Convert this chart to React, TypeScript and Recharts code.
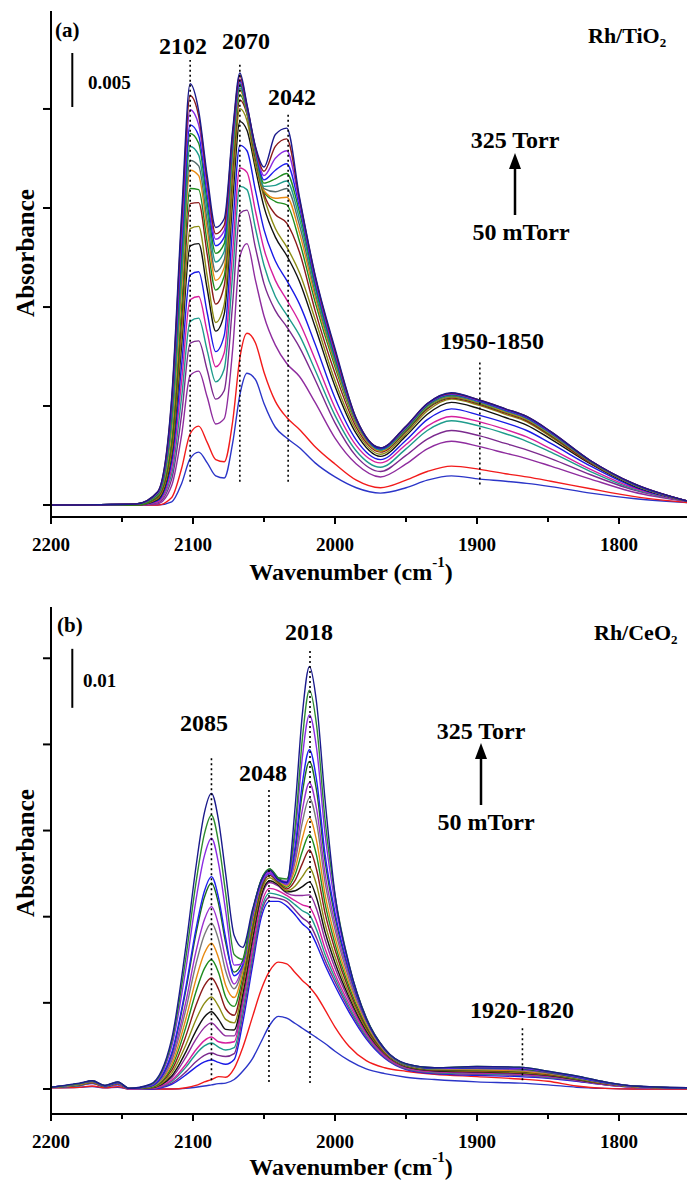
import React from 'react';
import { LineChart, Line, XAxis, YAxis, ReferenceLine } from 'recharts';

// ---------- Panel (a) Rh/TiO2 : absorbance in units of 0.001 ----------
const wavenumbersA = [2200, 2140, 2125, 2115, 2108, 2102, 2096, 2090, 2084, 2078, 2072, 2067, 2062, 2056, 2050, 2042, 2034, 2025, 2014, 2000, 1985, 1968, 1950, 1935, 1918, 1898, 1880, 1865, 1848, 1820, 1790, 1750];
const tiA01 = [0, 0, 0, 0.3, 2.0, 4.3, 4.9, 3.9, 2.7, 2.5, 5.8, 10.2, 12.2, 11.6, 9.4, 7.2, 6.2, 5.3, 3.9, 2.6, 1.6, 1.1, 1.6, 2.3, 2.7, 2.4, 2.2, 2.0, 1.7, 1.1, 0.6, 0.2];
const tiA02 = [0, 0, 0, 0.7, 3.4, 6.6, 7.3, 5.8, 4.2, 4.0, 7.8, 13.6, 15.9, 15.0, 12.3, 9.6, 8.1, 7.0, 5.4, 3.8, 2.3, 1.6, 2.3, 3.1, 3.6, 3.3, 2.9, 2.6, 2.2, 1.5, 0.8, 0.2];
const tiA03 = [0, 0, 0.1, 1.8, 6.5, 12.0, 12.4, 10.0, 7.5, 8.0, 14.5, 23.0, 24.2, 20.8, 17.5, 14.8, 13.1, 11.9, 9.5, 6.2, 3.8, 2.6, 3.8, 5.2, 5.9, 5.4, 4.8, 4.3, 3.6, 2.4, 1.2, 0.3];
const tiA04 = [0, 0, 0.2, 2.4, 8.4, 15.0, 15.2, 12.5, 9.8, 10.6, 18.8, 27.0, 27.3, 23.8, 20.5, 18.0, 16.5, 14.6, 11.6, 7.6, 4.5, 3.1, 4.6, 6.1, 6.9, 6.4, 5.7, 5.1, 4.3, 2.8, 1.4, 0.3];
const tiA05 = [0, 0, 0.3, 2.9, 10.0, 17.0, 17.3, 14.3, 11.4, 12.6, 21.5, 29.5, 29.2, 25.6, 22.2, 19.3, 17.6, 15.7, 12.5, 8.3, 5.0, 3.5, 5.2, 6.9, 7.8, 7.3, 6.6, 5.9, 4.9, 3.1, 1.5, 0.3];
const tiA06 = [0, 0, 0.3, 3.4, 11.5, 19.0, 19.3, 16.0, 12.8, 14.1, 23.6, 31.2, 30.8, 27.2, 23.7, 20.8, 19.0, 16.9, 13.5, 9.0, 5.5, 3.9, 5.6, 7.3, 8.2, 7.7, 7.0, 6.3, 5.2, 3.3, 1.6, 0.3];
const tiA07 = [0, 0, 0.4, 4.0, 13.0, 21.3, 21.6, 17.8, 14.2, 15.7, 25.9, 33.3, 32.8, 29.1, 25.5, 22.6, 20.8, 18.6, 14.9, 9.9, 6.0, 4.2, 6.0, 7.9, 8.9, 8.3, 7.6, 6.9, 5.7, 3.6, 1.7, 0.3];
const tiA08 = [0, 0, 0.5, 4.6, 14.8, 24.0, 24.2, 20.0, 16.1, 17.7, 28.3, 35.5, 34.7, 31.1, 27.6, 24.8, 23.1, 20.7, 16.5, 11.0, 6.6, 4.5, 6.4, 8.4, 9.5, 8.9, 8.1, 7.4, 6.1, 3.8, 1.8, 0.3];
const tiA09 = [0, 0, 0.6, 5.0, 15.8, 25.6, 25.8, 21.2, 16.9, 18.6, 29.6, 36.7, 35.6, 31.5, 28.5, 25.6, 23.9, 21.5, 17.2, 11.5, 6.9, 4.7, 6.6, 8.7, 9.8, 9.2, 8.4, 7.7, 6.3, 3.9, 1.9, 0.3];
const tiA10 = [0, 0, 0.7, 5.6, 17.2, 27.9, 28.0, 23.2, 18.6, 20.3, 31.0, 37.5, 36.2, 32.0, 28.8, 26.9, 26.1, 23.4, 18.0, 12.2, 7.2, 4.9, 6.8, 8.9, 9.9, 9.3, 8.5, 7.8, 6.4, 3.9, 1.9, 0.3];
const tiA11 = [0, 0, 0.8, 6.0, 18.4, 29.3, 29.2, 24.3, 19.9, 21.2, 31.8, 38.0, 36.3, 32.3, 29.0, 28.1, 27.8, 24.4, 18.8, 12.8, 7.5, 5.0, 6.9, 9.0, 10.0, 9.4, 8.6, 7.9, 6.5, 4.0, 1.9, 0.3];
const tiA12 = [0, 0.1, 0.9, 7.0, 20.0, 31.0, 30.5, 25.5, 20.8, 22.0, 32.3, 38.4, 36.4, 32.5, 29.1, 28.4, 28.5, 25.2, 19.3, 13.1, 7.6, 5.0, 7.0, 9.1, 10.05, 9.45, 8.65, 7.95, 6.55, 4.0, 1.9, 0.3];
const tiA13 = [0, 0.1, 0.9, 7.5, 21.0, 31.9, 31.4, 26.3, 21.6, 22.7, 32.8, 38.6, 36.5, 32.6, 29.3, 29.0, 29.3, 25.9, 19.7, 13.3, 7.7, 5.1, 7.0, 9.15, 10.1, 9.5, 8.7, 8.0, 6.6, 4.0, 1.9, 0.3];
const tiA14 = [0, 0.1, 1.0, 8.0, 22.0, 33.2, 32.4, 27.2, 22.5, 23.5, 33.2, 38.8, 36.6, 32.7, 29.5, 29.6, 30.0, 26.5, 20.1, 13.5, 7.8, 5.1, 7.1, 9.2, 10.15, 9.55, 8.75, 8.05, 6.65, 4.05, 1.95, 0.3];
const tiA15 = [0, 0.1, 1.0, 8.5, 23.0, 34.4, 33.5, 28.0, 23.3, 24.2, 33.6, 39.0, 36.7, 32.8, 29.8, 30.2, 30.7, 27.1, 20.4, 13.7, 7.8, 5.2, 7.1, 9.25, 10.2, 9.6, 8.8, 8.1, 6.7, 4.05, 1.95, 0.3];
const tiA16 = [0, 0.1, 1.1, 9.0, 24.0, 35.2, 34.2, 28.7, 24.0, 24.8, 33.9, 39.2, 36.8, 32.9, 30.1, 31.0, 31.6, 27.6, 20.7, 13.9, 7.9, 5.2, 7.2, 9.3, 10.25, 9.6, 8.8, 8.1, 6.7, 4.1, 1.95, 0.3];
const tiA17 = [0, 0.1, 1.1, 9.3, 25.2, 36.6, 35.2, 29.4, 24.6, 25.4, 34.2, 39.4, 36.9, 33.0, 30.5, 32.1, 32.8, 28.0, 21.0, 14.1, 7.9, 5.3, 7.2, 9.35, 10.3, 9.65, 8.85, 8.15, 6.75, 4.1, 2.0, 0.3];
const tiA18 = [0, 0.1, 1.2, 9.7, 26.2, 37.9, 36.0, 30.0, 25.1, 25.9, 34.5, 39.7, 37.0, 33.1, 30.9, 33.2, 33.9, 28.3, 21.2, 14.3, 8.0, 5.3, 7.3, 9.4, 10.35, 9.7, 8.9, 8.2, 6.8, 4.1, 2.0, 0.3];
const tiA19 = [0, 0.1, 1.2, 10.0, 27.0, 39.0, 36.5, 30.5, 25.7, 26.5, 34.8, 40.0, 37.1, 33.2, 31.3, 34.3, 34.9, 28.5, 21.3, 14.5, 8.0, 5.3, 7.3, 9.4, 10.4, 9.7, 8.9, 8.2, 6.8, 4.1, 2.0, 0.3];
const seriesA = [tiA01, tiA02, tiA03, tiA04, tiA05, tiA06, tiA07, tiA08, tiA09, tiA10, tiA11, tiA12, tiA13, tiA14, tiA15, tiA16, tiA17, tiA18, tiA19];
const colorsA = ['#2B35C8', '#F21B1B', '#8E2C9E', '#7B2A8E', '#1E9C8C', '#D61F9E', '#1A1AE6', '#111111', '#8C8C14', '#8B1A1A', '#1E8C1E', '#E88A12', '#556B6B', '#1E9C8C', '#1E8C1E', '#2020F0', '#8A2BE2', '#8B1A1A', '#1A1A8C'];

// ---------- Panel (b) Rh/CeO2 : absorbance in units of 0.001 ----------
const wavenumbersB = [2200, 2180, 2171, 2162, 2153, 2145, 2130, 2115, 2105, 2098, 2092, 2087, 2082, 2077, 2071, 2065, 2058, 2052, 2046, 2040, 2034, 2028, 2023, 2018, 2013, 2007, 2000, 1990, 1978, 1965, 1950, 1930, 1900, 1870, 1850, 1830, 1810, 1790, 1750];
const ceB01 = [0.2, 0.3, 0.4, 0.2, 0.3, 0, 0, 0, 0.1, 0.3, 0.5, 0.7, 0.9, 1.0, 1.6, 3.0, 5.2, 8.0, 10.8, 12.3, 12.0, 11.1, 10.3, 9.5, 8.7, 7.7, 6.4, 4.8, 3.4, 2.6, 2.0, 1.6, 1.2, 1.0, 0.7, 0.3, 0.1, 0, 0];
const ceB02 = [0.2, 0.3, 0.5, 0.2, 0.4, 0, 0, 0, 0.2, 0.6, 1.2, 1.6, 2.1, 2.0, 3.5, 7.0, 12.3, 16.8, 20.0, 21.5, 21.2, 19.7, 18.4, 17.3, 15.8, 13.4, 10.5, 7.2, 4.8, 3.6, 3.0, 2.5, 2.1, 1.7, 1.3, 0.5, 0.1, 0, 0];
const ceB03 = [0.3, 0.6, 0.9, 0.4, 0.7, 0, 0, 0.8, 2.4, 3.7, 4.6, 4.9, 4.5, 4.2, 5.0, 11.2, 21.0, 29.0, 31.8, 31.8, 31.0, 29.5, 28.0, 26.9, 24.5, 21.0, 17.5, 13.0, 8.5, 5.2, 3.3, 2.6, 2.3, 2.1, 1.8, 1.3, 0.7, 0.3, 0.1];
const ceB04 = [0.3, 0.6, 1.0, 0.4, 0.8, 0, 0.1, 1.0, 2.9, 4.6, 5.7, 6.1, 5.7, 5.5, 6.0, 12.4, 22.0, 29.8, 32.5, 32.3, 31.8, 30.3, 29.0, 28.0, 25.6, 21.8, 18.2, 13.5, 8.8, 5.4, 3.4, 2.7, 2.5, 2.3, 1.9, 1.4, 0.7, 0.3, 0.1];
const ceB05 = [0.3, 0.6, 1.0, 0.4, 0.8, 0, 0.1, 1.3, 3.7, 5.9, 7.3, 7.8, 7.1, 6.6, 7.0, 13.4, 22.8, 30.4, 33.2, 32.9, 32.3, 31.2, 30.2, 29.5, 27.0, 22.8, 18.8, 13.9, 9.0, 5.5, 3.5, 2.8, 2.6, 2.4, 2.0, 1.5, 0.8, 0.3, 0.1];
const ceB06 = [0.3, 0.7, 1.0, 0.4, 0.8, 0, 0.1, 1.5, 4.2, 6.6, 8.2, 8.8, 8.0, 7.8, 8.0, 14.4, 23.7, 31.2, 34.0, 33.6, 32.8, 31.9, 31.2, 30.8, 28.4, 23.8, 19.5, 14.4, 9.3, 5.6, 3.6, 2.9, 2.7, 2.5, 2.1, 1.5, 0.8, 0.3, 0.1];
const ceB07 = [0.3, 0.7, 1.1, 0.4, 0.9, 0.1, 0.2, 1.9, 5.4, 8.4, 10.4, 11.2, 10.1, 9.0, 9.0, 15.2, 24.8, 32.3, 35.0, 34.4, 33.2, 32.8, 32.8, 32.9, 30.5, 25.3, 20.5, 15.0, 9.6, 5.8, 3.7, 3.0, 2.8, 2.6, 2.2, 1.6, 0.8, 0.4, 0.1];
const ceB08 = [0.3, 0.7, 1.1, 0.4, 0.9, 0.1, 0.2, 2.2, 6.3, 9.8, 12.2, 13.1, 11.8, 10.1, 10.0, 16.0, 25.6, 32.8, 35.3, 34.6, 33.4, 33.6, 34.3, 35.1, 32.4, 26.6, 21.4, 15.5, 9.9, 6.0, 3.8, 3.1, 2.9, 2.7, 2.3, 1.6, 0.9, 0.4, 0.1];
const ceB09 = [0.3, 0.7, 1.1, 0.4, 0.9, 0.1, 0.2, 2.7, 7.5, 11.7, 14.5, 15.6, 14.0, 11.8, 11.2, 17.0, 26.5, 33.4, 35.8, 34.8, 33.6, 34.4, 36.0, 37.5, 34.6, 28.0, 22.4, 16.0, 10.2, 6.1, 3.9, 3.2, 3.0, 2.8, 2.4, 1.7, 0.9, 0.4, 0.1];
const ceB10 = [0.3, 0.8, 1.2, 0.5, 1.0, 0.1, 0.3, 3.2, 9.0, 14.1, 17.5, 18.8, 16.9, 13.6, 12.5, 18.0, 27.3, 33.9, 36.2, 35.0, 33.9, 35.4, 38.2, 40.5, 37.2, 29.8, 23.6, 16.7, 10.5, 6.2, 4.0, 3.2, 3.1, 2.9, 2.5, 1.8, 0.9, 0.4, 0.1];
const ceB11 = [0.3, 0.8, 1.2, 0.5, 1.0, 0.1, 0.3, 3.7, 10.5, 16.4, 20.4, 21.9, 19.7, 15.6, 14.0, 19.0, 28.0, 34.3, 36.5, 35.2, 34.2, 36.4, 40.3, 43.1, 39.6, 31.4, 24.6, 17.3, 10.8, 6.3, 4.0, 3.3, 3.2, 3.0, 2.6, 1.8, 1.0, 0.4, 0.1];
const ceB12 = [0.3, 0.8, 1.2, 0.5, 1.0, 0.1, 0.4, 4.2, 11.9, 18.5, 23.0, 24.7, 22.2, 17.6, 15.5, 19.8, 28.7, 34.7, 36.8, 35.4, 34.4, 37.4, 42.5, 45.9, 42.1, 33.0, 25.7, 17.9, 11.1, 6.4, 4.1, 3.4, 3.3, 3.1, 2.6, 1.9, 1.0, 0.4, 0.1];
const ceB13 = [0.3, 0.8, 1.3, 0.5, 1.0, 0.1, 0.4, 4.8, 13.5, 21.1, 26.1, 28.1, 25.3, 20.0, 17.0, 20.5, 29.3, 35.0, 37.0, 35.6, 34.6, 38.6, 45.2, 49.3, 45.2, 35.0, 27.0, 18.6, 11.4, 6.5, 4.1, 3.4, 3.4, 3.2, 2.7, 1.9, 1.0, 0.4, 0.1];
const ceB14 = [0.3, 0.9, 1.3, 0.5, 1.1, 0.1, 0.5, 5.3, 14.8, 23.2, 28.7, 30.9, 27.8, 22.0, 17.8, 21.0, 29.4, 34.9, 36.8, 35.5, 34.7, 39.4, 47.3, 51.9, 47.5, 36.5, 28.0, 19.2, 11.6, 6.6, 4.1, 3.5, 3.5, 3.3, 2.8, 2.0, 1.1, 0.5, 0.1];
const ceB15 = [0.3, 0.9, 1.3, 0.5, 1.1, 0.1, 0.5, 5.9, 16.8, 26.2, 32.5, 34.9, 31.4, 24.8, 19.8, 21.8, 30.0, 35.4, 37.3, 35.8, 35.0, 40.6, 50.2, 55.5, 50.6, 38.6, 29.2, 19.8, 11.8, 6.7, 4.2, 3.5, 3.6, 3.4, 2.8, 2.0, 1.1, 0.5, 0.1];
const ceB16 = [0.3, 0.9, 1.3, 0.5, 1.1, 0.1, 0.5, 6.1, 17.3, 27.0, 33.5, 36.0, 32.4, 25.6, 19.2, 21.0, 29.4, 34.7, 36.5, 35.3, 34.9, 41.2, 51.8, 57.5, 52.4, 39.8, 29.9, 20.1, 11.9, 6.7, 4.2, 3.5, 3.6, 3.5, 2.9, 2.0, 1.1, 0.5, 0.1];
const ceB17 = [0.3, 0.9, 1.4, 0.6, 1.2, 0.1, 0.6, 7.2, 20.4, 31.9, 39.5, 42.5, 38.2, 30.2, 21.0, 21.2, 29.6, 34.8, 36.6, 35.4, 35.2, 43.2, 56.2, 63.4, 57.8, 43.2, 31.5, 20.7, 12.0, 6.8, 4.2, 3.6, 3.7, 3.6, 2.9, 2.1, 1.2, 0.5, 0.2];
const ceB18 = [0.3, 0.9, 1.4, 0.6, 1.2, 0.1, 0.7, 7.9, 22.3, 34.8, 43.2, 46.4, 41.8, 33.2, 22.8, 22.0, 30.2, 35.4, 37.3, 35.8, 35.6, 44.6, 59.3, 67.6, 61.7, 45.6, 32.8, 21.0, 12.1, 6.8, 4.2, 3.6, 3.8, 3.7, 3.0, 2.2, 1.2, 0.5, 0.2];
const ceB19 = [0.3, 1.0, 1.4, 0.6, 1.2, 0.1, 0.8, 8.5, 24.2, 37.5, 46.8, 50.1, 45.5, 36.5, 26.0, 24.0, 30.5, 35.3, 37.1, 35.5, 35.0, 48.0, 63.5, 71.6, 65.5, 49.0, 33.0, 21.0, 12.0, 6.8, 4.3, 3.6, 3.8, 3.7, 3.0, 2.2, 1.2, 0.5, 0.2];
const seriesB = [ceB01, ceB02, ceB03, ceB04, ceB05, ceB06, ceB07, ceB08, ceB09, ceB10, ceB11, ceB12, ceB13, ceB14, ceB15, ceB16, ceB17, ceB18, ceB19];
const colorsB = ['#2B35C8', '#F21B1B', '#1A1AE6', '#7B2A8E', '#1E9C8C', '#D61F9E', '#8E2C9E', '#111111', '#8C8C14', '#8B1A1A', '#1E8C1E', '#E88A12', '#7A7A7A', '#9B30D0', '#1C6E1C', '#2020F0', '#8A2BE2', '#2E8B2E', '#1A1A8C'];

// ---------- axes / annotations ----------
const xTicks = [2200, 2150, 2100, 2050, 2000, 1950, 1900, 1850, 1800, 1750];
const yTicksA = [0, 9.17, 18.33, 27.5, 36.67];
const yTicksB = [0, 14.6, 29.2, 43.8, 58.4, 73.0];
const yDomainA = [-1.11, 45.74];
const yDomainB = [-4.24, 81.69];
// dotted peak markers: wavenumber, from, to (absorbance x1000)
const markersA = [
  { w: 2102, y0: 2.15, y1: 41.2 },
  { w: 2067, y0: 2.15, y1: 41.0 },
  { w: 2033, y0: 2.15, y1: 36.3 },
  { w: 1898, y0: 1.9, y1: 13.3 },
];
const markersB = [
  { w: 2087, y0: 1.5, y1: 56.3 },
  { w: 2046.5, y0: 1.2, y1: 51.2 },
  { w: 2017.6, y0: 1.0, y1: 74.7 },
  { w: 1868, y0: 1.5, y1: 10.5 },
];
const scaleBarA = { w: 2185, y0: 36.85, y1: 41.85 }; // 0.005
const scaleBarB = { w: 2185, y0: 64.6, y1: 74.6 }; // 0.01

const FONT = '"Liberation Serif", "Times New Roman", serif';

function XTick(props: any) {
  const { x, y, payload } = props;
  const v = payload.value;
  const major = v % 100 === 0;
  return (
    <g>
      <line x1={x} x2={x} y1={y} y2={y + (major ? 7 : 5)} stroke="#000" strokeWidth={2} />
      {major ? (
        <text x={x} y={y + 34} textAnchor="middle" fontFamily={FONT} fontWeight="bold" fontSize={19} fill="#000">
          {v}
        </text>
      ) : null}
    </g>
  );
}

function YTick(props: any) {
  const { y } = props;
  // tick mark drawn outward from the axis line (axis line at x = 51)
  return <line x1={43} x2={51} y1={y} y2={y} stroke="#000" strokeWidth={2} />;
}

function Panel(props: any) {
  const { w, series, colors, yDomain, yTicks, markers, bar, height, mTop, mBottom } = props;
  const data = w.map((v: number, i: number) => {
    const row: any = { w: v };
    series.forEach((s: number[], k: number) => {
      row['s' + k] = s[i];
    });
    return row;
  });
  const axisStyle = { stroke: '#000', strokeWidth: 2 };
  return (
    <LineChart width={700} height={height} data={data} margin={{ top: mTop, right: 9, left: 11, bottom: mBottom }}>
      <XAxis
        dataKey="w"
        type="number"
        domain={[1750, 2200]}
        reversed
        ticks={xTicks}
        interval={0}
        tick={<XTick />}
        tickLine={false}
        tickSize={0}
        tickMargin={0}
        axisLine={axisStyle}
        height={60}
        allowDataOverflow
      />
      <XAxis xAxisId="top" orientation="top" dataKey="w" type="number" domain={[1750, 2200]} reversed tick={false} tickLine={false} height={0} axisLine={axisStyle} />
      <YAxis type="number" domain={yDomain} ticks={yTicks} interval={0} tick={<YTick />} tickLine={false} tickSize={0} tickMargin={0} axisLine={axisStyle} width={40} allowDataOverflow />
      <YAxis yAxisId="right" orientation="right" type="number" domain={[0, 1]} tick={false} tickLine={false} axisLine={axisStyle} width={1} />
      {series.map((_: any, k: number) => (
        <Line key={k} dataKey={'s' + k} type="monotone" stroke={colors[k]} strokeWidth={1.4} dot={false} activeDot={false} isAnimationActive={false} />
      ))}
      {markers.map((m: any, i: number) => (
        <ReferenceLine key={'m' + i} segment={[{ x: m.w, y: m.y0 }, { x: m.w, y: m.y1 }]} stroke="#000" strokeWidth={1.6} strokeDasharray="2 3" />
      ))}
      <ReferenceLine segment={[{ x: bar.w, y: bar.y0 }, { x: bar.w, y: bar.y1 }]} stroke="#000" strokeWidth={2} />
    </LineChart>
  );
}

function T(p: any) {
  const { x, y, size = 24, anchor = 'middle', children, rotate } = p;
  return (
    <text
      x={x}
      y={y}
      fontFamily={FONT}
      fontWeight="bold"
      fontSize={size}
      textAnchor={anchor}
      dominantBaseline="central"
      fill="#000"
      transform={rotate ? `rotate(${rotate} ${x} ${y})` : undefined}
    >
      {children}
    </text>
  );
}

function Arrow({ x, yTop, yBottom }: any) {
  return (
    <g>
      <line x1={x} x2={x} y1={yBottom} y2={yTop + 12} stroke="#000" strokeWidth={2.5} />
      <polygon points={`${x},${yTop} ${x - 6},${yTop + 16} ${x + 6},${yTop + 16}`} fill="#000" />
    </g>
  );
}

function Overlay() {
  const title = (y: number) => (
    <text x={351} y={y} fontFamily={FONT} fontWeight="bold" fontSize={24} textAnchor="middle" dominantBaseline="central" fill="#000">
      Wavenumber (cm<tspan fontSize={15} dy={-10}>-1</tspan>
      <tspan dy={10}>)</tspan>
    </text>
  );
  return (
    <svg width={700} height={1180} style={{ position: 'absolute', left: 0, top: 0, pointerEvents: 'none' }}>
      {/* panel a */}
      <T x={55} y={30} size={21} anchor="start">(a)</T>
      <text x={588} y={35} fontFamily={FONT} fontWeight="bold" fontSize={22} dominantBaseline="central" fill="#000">
        Rh/TiO<tspan fontSize={13} dy={7}>2</tspan>
      </text>
      <T x={88} y={82} size={19} anchor="start">0.005</T>
      <T x={183} y={46}>2102</T>
      <T x={246} y={41}>2070</T>
      <T x={292} y={97}>2042</T>
      <T x={515} y={140}>325 Torr</T>
      <Arrow x={515} yTop={153} yBottom={215} />
      <T x={521} y={232}>50 mTorr</T>
      <T x={492} y={341}>1950-1850</T>
      <T x={25} y={253} size={25} rotate={-90}>Absorbance</T>
      {title(572)}
      {/* panel b */}
      <T x={57} y={625} size={21} anchor="start">(b)</T>
      <text x={594} y={632} fontFamily={FONT} fontWeight="bold" fontSize={22} dominantBaseline="central" fill="#000">
        Rh/CeO<tspan fontSize={13} dy={7}>2</tspan>
      </text>
      <T x={83} y={680} size={19} anchor="start">0.01</T>
      <T x={309} y={632}>2018</T>
      <T x={204} y={723}>2085</T>
      <T x={263} y={773}>2048</T>
      <T x={481} y={731}>325 Torr</T>
      <Arrow x={481} yTop={743} yBottom={805} />
      <T x={486} y={822}>50 mTorr</T>
      <T x={522} y={1010}>1920-1820</T>
      <T x={25} y={853} size={25} rotate={-90}>Absorbance</T>
      {title(1167)}
    </svg>
  );
}

export default function App() {
  return (
    <div style={{ position: 'absolute', left: 0, top: 0, width: 687, height: 1180, overflow: 'hidden', background: '#fff' }}>
      <div style={{ position: 'absolute', left: 0, top: 0 }}>
        <Panel w={wavenumbersA} series={seriesA} colors={colorsA} yDomain={yDomainA} yTicks={yTicksA} markers={markersA} bar={scaleBarA} height={590} mTop={11} mBottom={13} />
      </div>
      <div style={{ position: 'absolute', left: 0, top: 590 }}>
        <Panel w={wavenumbersB} series={seriesB} colors={colorsB} yDomain={yDomainB} yTicks={yTicksB} markers={markersB} bar={scaleBarB} height={590} mTop={17} mBottom={6} />
      </div>
      <Overlay />
    </div>
  );
}
